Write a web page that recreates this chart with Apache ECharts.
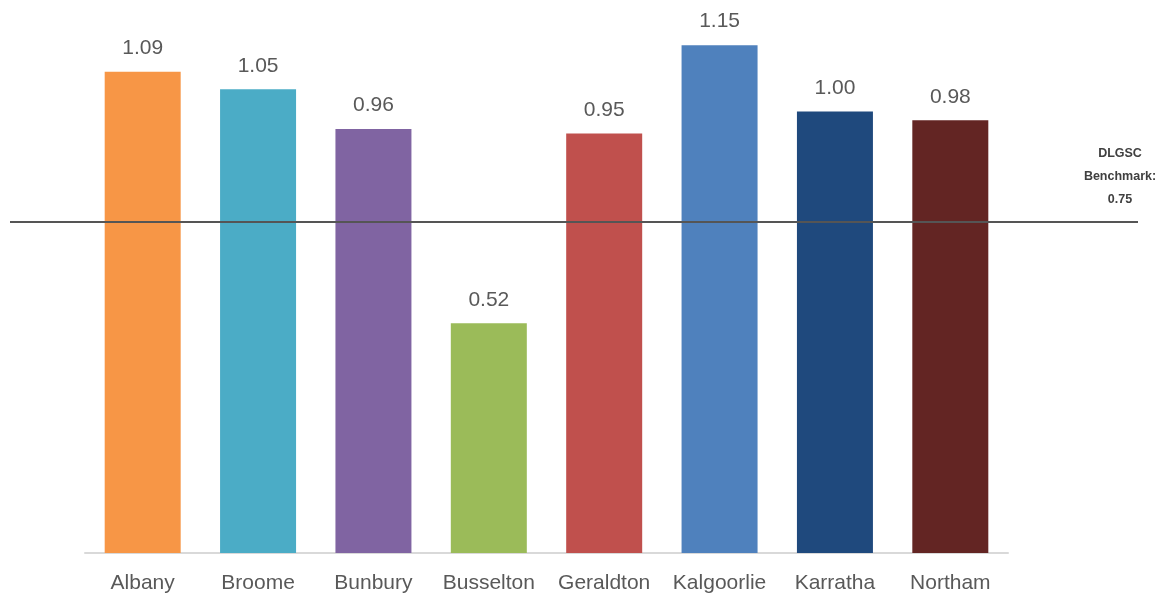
<!DOCTYPE html>
<html lang="en">
<head>
<meta charset="UTF-8">
<title>DLGSC Benchmark</title>
<script src="https://cdn.jsdelivr.net/npm/echarts@6/dist/echarts.min.js"></script>
<style>
html, body { margin: 0; padding: 0; background: #fff; }
#chart { width: 1161px; height: 600px; }
</style>
</head>
<body>
<div id="chart"></div>
<script>
const towns = ['Albany', 'Broome', 'Bunbury', 'Busselton', 'Geraldton', 'Kalgoorlie', 'Karratha', 'Northam'];
const ratios = [1.09, 1.05, 0.96, 0.52, 0.95, 1.15, 1.00, 0.98];
const barColors = ['#F79646', '#4BACC6', '#8064A2', '#9BBB59', '#C0504D', '#4F81BD', '#1F497D', '#632523'];
const benchmark = 0.75;
const benchmarkText = ['DLGSC', 'Benchmark:', '0.75'];

const chart = echarts.init(document.getElementById('chart'));
chart.setOption({
  animation: false,
  grid: [
    { left: 85, right: 153, top: 1, bottom: 47 },
    { left: 10, right: 23, top: 1, bottom: 47 }
  ],
  xAxis: [{
    type: 'category',
    gridIndex: 0,
    data: towns,
    axisLine: { lineStyle: { color: '#d9d9d9', width: 2 } },
    axisTick: { show: false },
    axisLabel: { interval: 0, color: '#595959', fontSize: 21, fontFamily: 'Liberation Sans, Arial', margin: 20 }
  }, {
    type: 'category',
    gridIndex: 1,
    data: [''],
    show: false
  }],
  yAxis: [{
    type: 'value', gridIndex: 0, min: 0, max: 1.25, show: false
  }, {
    type: 'value', gridIndex: 1, min: 0, max: 1.25, show: false
  }],
  series: [{
    type: 'bar',
    xAxisIndex: 0,
    yAxisIndex: 0,
    barWidth: 76,
    data: ratios.map((v, i) => ({ value: v, itemStyle: { color: barColors[i] } })),
    label: {
      show: true,
      position: 'top',
      distance: 13,
      color: '#595959',
      fontSize: 21,
      fontFamily: 'Liberation Sans, Arial',
      formatter: p => p.value.toFixed(2)
    }
  }, {
    type: 'line',
    xAxisIndex: 1,
    yAxisIndex: 1,
    data: [],
    markLine: {
      silent: true,
      symbol: 'none',
      lineStyle: { color: '#555', width: 2, type: 'solid' },
      data: [{ yAxis: benchmark }],
      label: {
        show: true,
        position: 'insideEndTop',
        formatter: benchmarkText.join('\n'),
        color: '#404040',
        fontSize: 12.5,
        fontWeight: 'bold',
        fontFamily: 'Liberation Sans, Arial',
        lineHeight: 23,
        align: 'center',
        offset: [-13, -6]
      }
    }
  }]
});
</script>
</body>
</html>
